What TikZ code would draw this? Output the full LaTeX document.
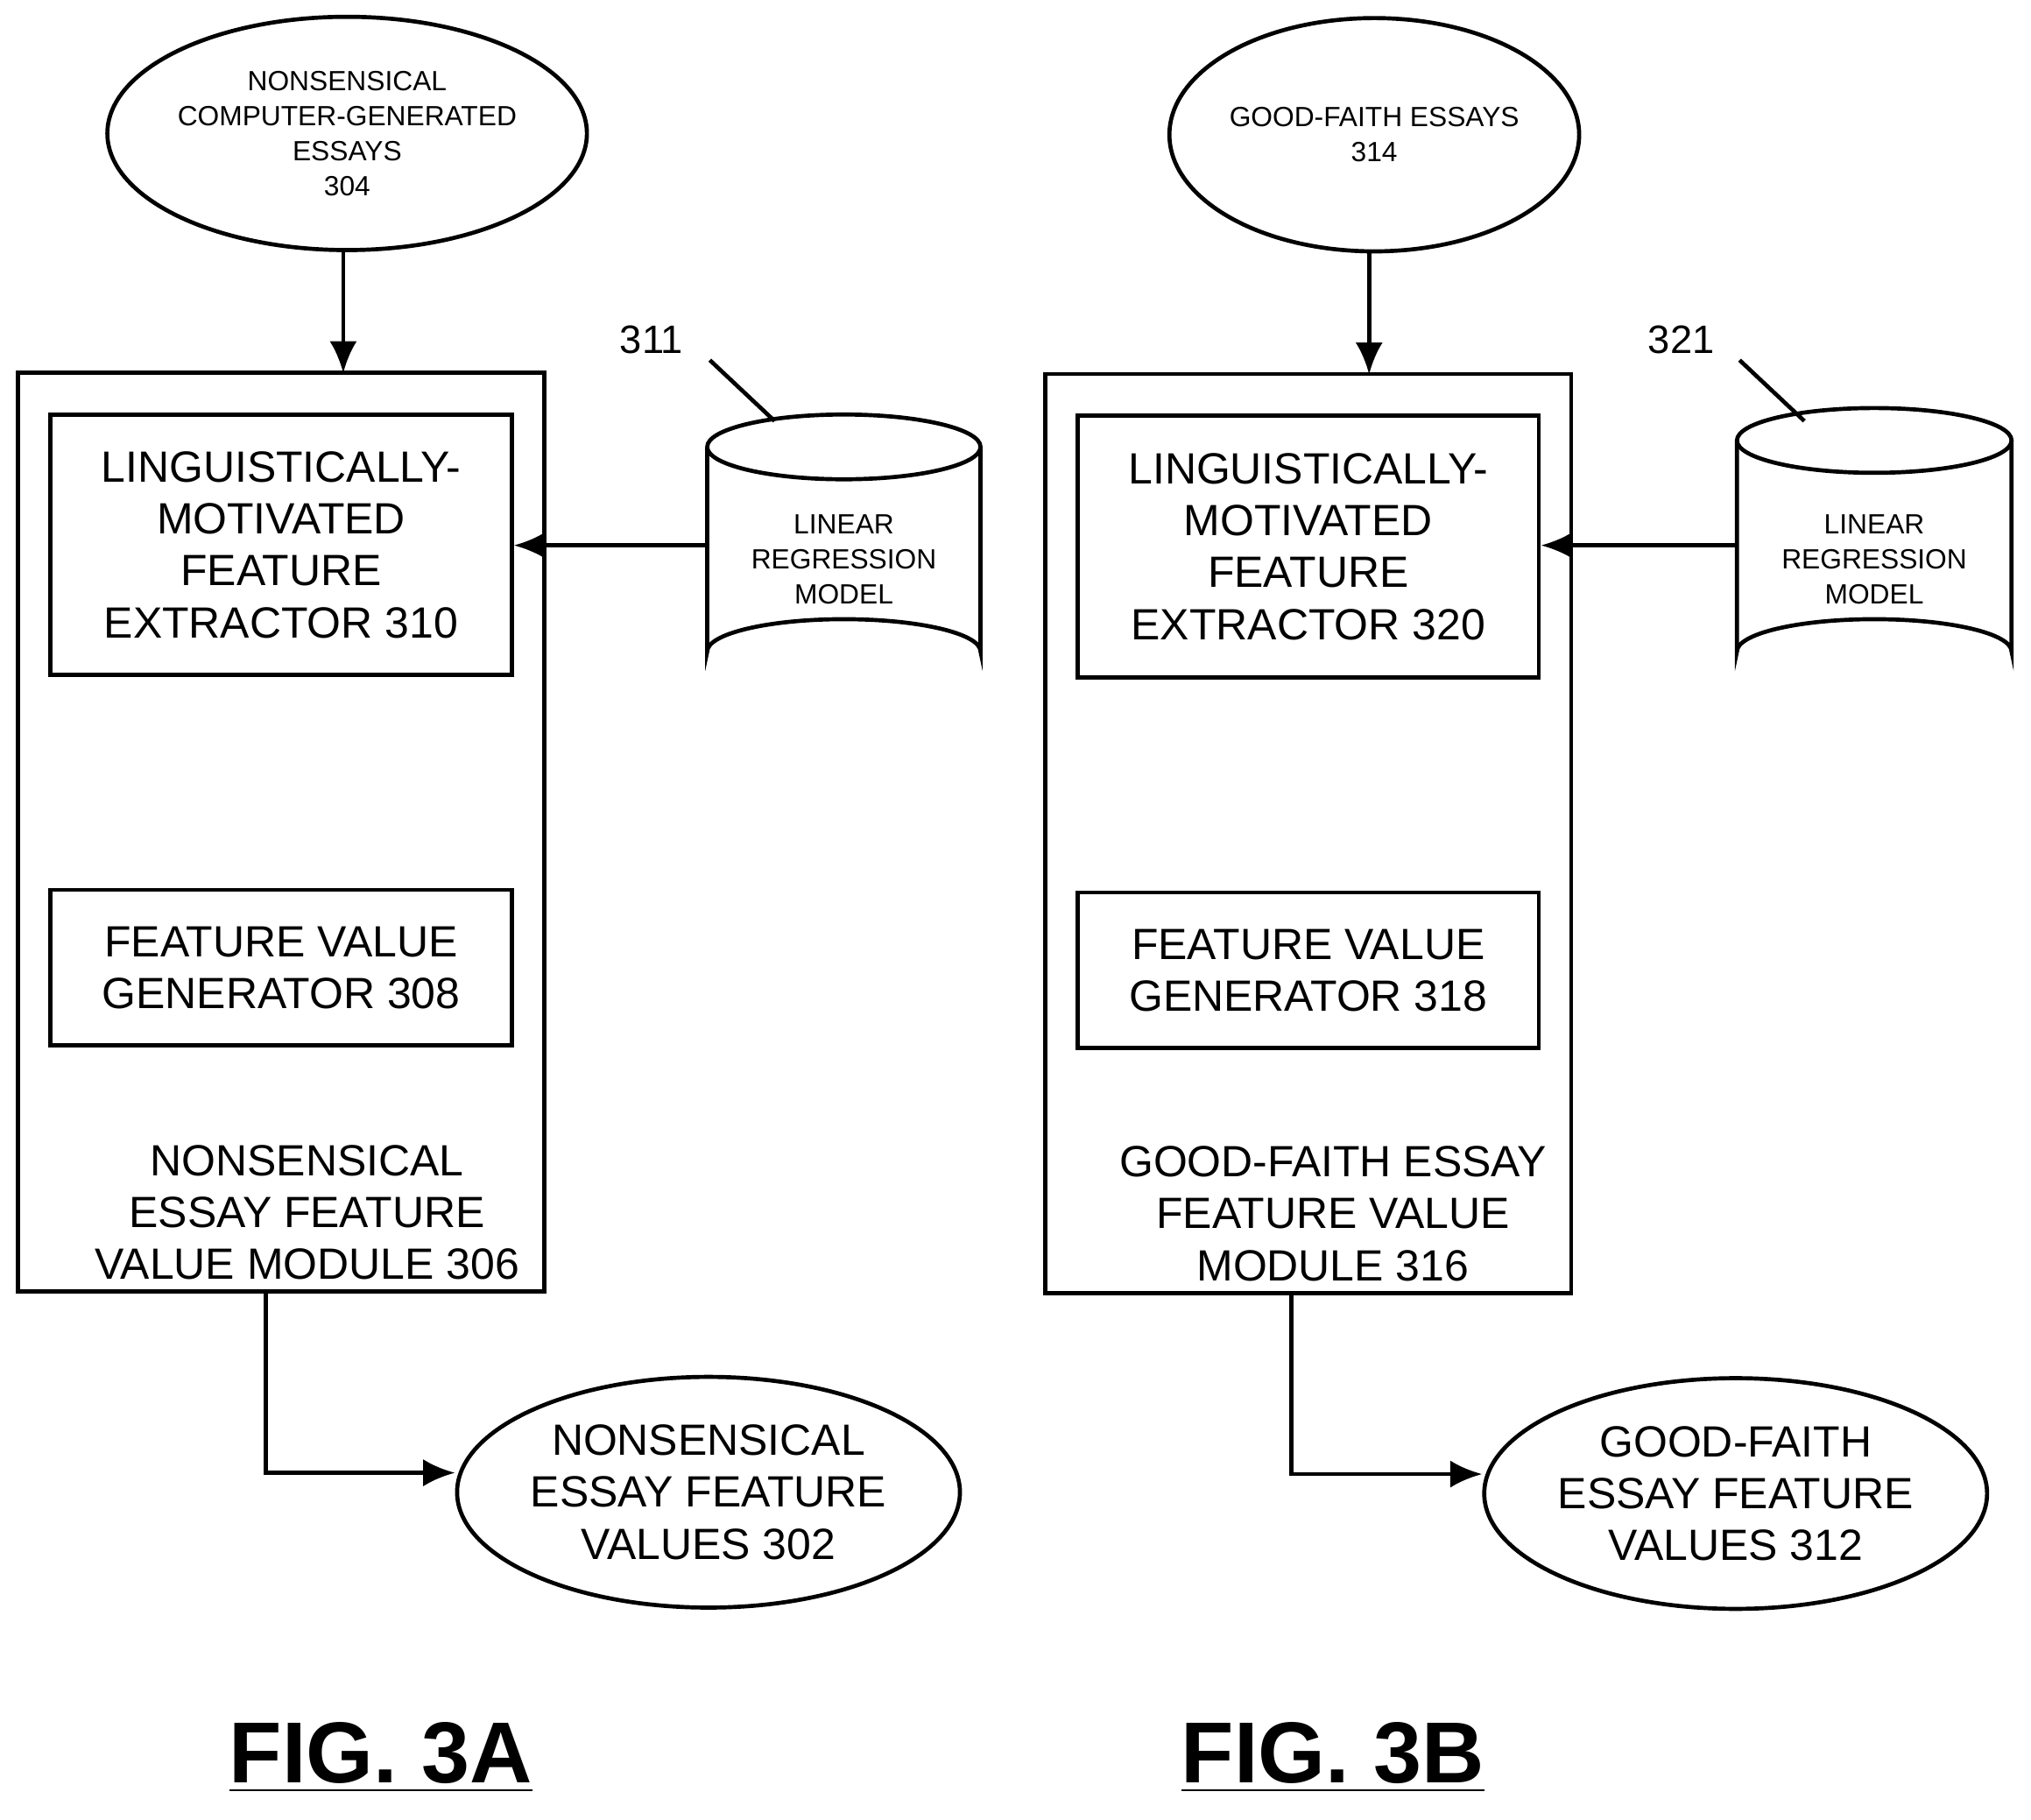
\documentclass[tikz,border=0pt]{standalone}
\usepackage{fontspec}
\setmainfont{Liberation Sans}
\usetikzlibrary{shapes.geometric,arrows.meta}
\begin{document}
\begin{tikzpicture}[x=0.01cm,y=-0.01cm,line width=0.9pt,
 big/.style={font=\fontsize{9.6}{11.4}\selectfont,align=center},
 small/.style={font=\fontsize{6.1}{7.7}\selectfont,align=center},
 ell/.style={draw,ellipse,inner sep=0pt},
 box/.style={draw,inner sep=0pt},
 arr/.style={-{Latex[length=7pt,width=6pt]}}]
\useasboundingbox (0,0) rectangle (1568,1405);
\newcommand{\cyl}[4]{% left x, right x, top y, bottom y
 \draw ({(#1+#2)/2},#3) ellipse ({(#2-#1)/2} and 25);
 \draw (#1,#3) -- (#1,#4) arc[start angle=180,end angle=360,x radius={(#2-#1)/2},y radius=25] -- (#2,#3);}
% ---------- FIG 3A
\node[ell,minimum width=3.04cm,minimum height=1.8cm,small] (e304) at (268,103) {NONSENSICAL\\COMPUTER-GENERATED\\ESSAYS\\304};
\node[box,minimum width=4.06cm,minimum height=7.09cm] (m306) at (217,642.5) {};
\node[box,minimum width=3.56cm,minimum height=2.01cm,big] (b310) at (217,420.5) {LINGUISTICALLY-\\MOTIVATED\\FEATURE\\EXTRACTOR 310};
\node[box,minimum width=3.56cm,minimum height=1.2cm,big] (b308) at (217,747) {FEATURE VALUE\\GENERATOR 308};
\node[big] (l306) at (237,936) {NONSENSICAL\\ESSAY FEATURE\\VALUE MODULE 306};
\cyl{546}{757}{345}{503}
\node[small,minimum width=2.11cm,minimum height=2.08cm] (c311) at (651.5,432) {LINEAR\\REGRESSION\\MODEL};
\node[font=\fontsize{8.7}{10}\selectfont] (n311) at (503,262) {311};
\coordinate (t311) at (548,278);
\draw (t311) -- (598,325);
\node[ell,minimum width=3.04cm,minimum height=1.78cm,big] (e302) at (547,1152) {NONSENSICAL\\ESSAY FEATURE\\VALUES 302};
\draw[arr] (265,193) -- (265,288);
\draw[arr] (546,421) -- (b310.east |- 0,421);
\draw[arr] (205,997) -- (205,1137) -- (e302.west |- 0,1137);
\node[font=\bfseries\fontsize{19}{22}\selectfont] (f3a) at (294,1357) {\underline{FIG. 3A}};
% ---------- FIG 3B
\node[ell,minimum width=3.04cm,minimum height=1.8cm,small] (e314) at (1061,104) {GOOD-FAITH ESSAYS\\314};
\node[box,minimum width=4.06cm,minimum height=7.09cm] (m316) at (1010,643.5) {};
\node[box,minimum width=3.56cm,minimum height=2.02cm,big] (b320) at (1010,422) {LINGUISTICALLY-\\MOTIVATED\\FEATURE\\EXTRACTOR 320};
\node[box,minimum width=3.56cm,minimum height=1.2cm,big] (b318) at (1010,749) {FEATURE VALUE\\GENERATOR 318};
\node[big] (l316) at (1029,937) {GOOD-FAITH ESSAY\\FEATURE VALUE\\MODULE 316};
\cyl{1341}{1553}{340}{503}
\node[small,minimum width=2.12cm,minimum height=2.08cm] (c321) at (1447,432) {LINEAR\\REGRESSION\\MODEL};
\node[font=\fontsize{8.7}{10}\selectfont] (n321) at (1298,262) {321};
\draw (1343,278) -- (1393,325);
\node[ell,minimum width=3.04cm,minimum height=1.78cm,big] (e312) at (1340,1153) {GOOD-FAITH\\ESSAY FEATURE\\VALUES 312};
\draw[arr] (1057,193) -- (1057,289);
\draw[arr] (1341,421) -- (b320.east |- 0,421);
\draw[arr] (997,998) -- (997,1138) -- (e312.west |- 0,1138);
\node[font=\bfseries\fontsize{19}{22}\selectfont] (f3b) at (1029,1357) {\underline{FIG. 3B}};
\end{tikzpicture}
\end{document}
